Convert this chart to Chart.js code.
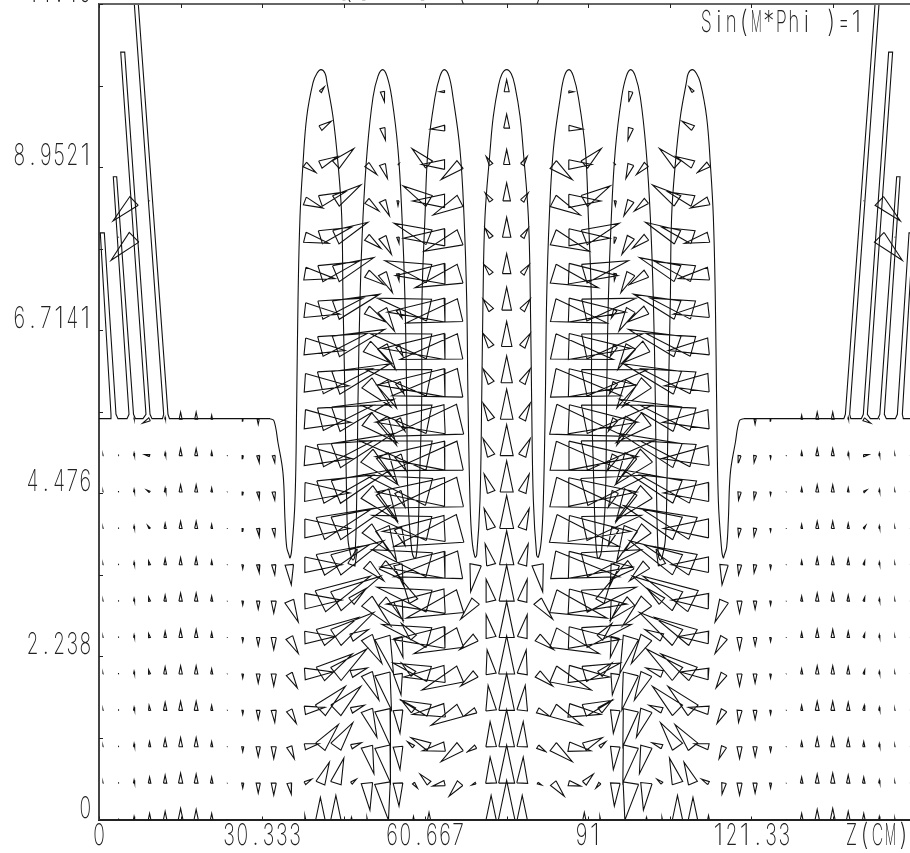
<!DOCTYPE html>
<html>
<head>
<meta charset="utf-8">
<title>Sin(M*Phi)=1</title>
<script src="https://cdn.jsdelivr.net/npm/chart.js@4/dist/chart.umd.min.js"></script>
<style>
  html, body { margin: 0; padding: 0; background: #fff; overflow: hidden; }
  canvas { display: block; }
</style>
</head>
<body>
<canvas id="fieldChart" width="910" height="853"></canvas>
<script>
// axis ticks
const xTickValues = [0, 15.167, 30.333, 45.5, 60.667, 75.833, 91, 106.17, 121.33, 136.5];
const xTickLabels = ['0', '', '30.333', '', '60.667', '', '91', '', '121.33', ''];
const yTickValues = [0, 1.119, 2.238, 3.357, 4.476, 5.595, 6.7141, 7.833, 8.9521, 10.071, 11.19];
const yTickLabels = ['0', '', '2.238', '', '4.476', '', '6.7141', '', '8.9521', '', '11.19'];

// arrow grid (left half, the right half is the mirror image about the centre column)
const gridZ = [0.74, 3.63, 6.52, 9.41, 12.30, 15.18, 18.07, 20.96, 23.85, 26.74, 29.62, 32.51, 35.40, 38.29,
  41.18, 44.06, 46.95, 49.84, 52.73, 55.62, 58.50, 61.39, 64.28, 67.17, 70.06, 72.94, 75.83];
const gridR = [0, 0.499, 0.999, 1.498, 1.997, 2.497, 2.996, 3.495, 3.994, 4.494, 4.993,
  5.492, 5.992, 6.491, 6.99, 7.49, 7.989, 8.488, 8.987, 9.487, 9.986];

// field components, one row per gridR, one column per gridZ
const fieldZ = [
  [0,0,0,0,0,0,0,0,0,0,0,0,0,0,0,0,0,0,0,0,0,0,0,0,0,0,0],
  [0,0,0,0,0,0,0,0,0,0,0,0,2,7,9,8,5,3,6,1,4,-9,-12,-11,-4,-1,0],
  [0,0,0,0,0,0,0,0,0,0,0,0,5,14,18,17,10,7,8,2,-6,-18,-22,-19,-8,-1,0],
  [0,0,0,-0.5,0,0,0,0,0,0,0,1,7,20,25,25,13,10,8,2,-12,-28,-32,-29,-12,-3,0],
  [0,0,0,-1,0,0,0,0,0,0,0,0,8,28,32,31,16,12,9,3,-12,-36,-41,-38,-15,-4,0],
  [0,0,0,-1,0,0,0,0,0,0,0,0,9,30,38,38,17,15,11,5,-12,-47,-51,-46,-16,-5,0],
  [0,0,0,-1,0,0,0,0,0,0,0,0,9,37,50,45,15,24,20,5,-11,-52,-58,-54,-15,-5,0],
  [0,0,0,-1,0,0,0,0,0,0,1,1,2,37,49,48,6,17,20,5,0,-57,-64,-66,-5,-6,0],
  [0,0,0,-2,0,0,0,0,0,0,1,1,0,45,52,54,0,22,14,7,0,-57,-62,-66,0,-7,0],
  [0,0,0,-3,0,0,0,0,0,0,1,1,0,45,53,54,0,30,15,7,0,-64,-68,-70,0,-7,0],
  [0,0,0,-5,0,0,0,0,0,0,1,1,0,47,53,57,0,31,15,8,0,-70,-69,-69,0,-8,0],
  [0,0,0,-7,0,0,0,0,0,0,0,0,0,46,53,58,0,30,14,7,0,-68,-69,-71,0,-8,0],
  [0,0,0,0,0,0,0,0,0,0,0,0,0,44,52,54,0,24,14,6,0,-63,-67,-68,0,-8,0],
  [0,0,0,0,0,0,0,0,0,0,0,0,0,40,47,49,0,25,13,5,0,-59,-62,-60,0,-8,0],
  [0,0,0,0,0,0,0,0,0,0,0,0,0,35,43,44,0,19,12,4,0,-52,-57,-54,0,-8,0],
  [0,0,0,0,0,0,0,0,0,0,0,0,0,30,38,38,0,17,10,1,0,-44,-49,-45,0,-7,0],
  [0,0,-23,0,0,0,0,0,0,0,0,0,0,24,31,32,0,14,9,1,0,-35,-41,-36,0,-6,0],
  [0,0,-21,0,0,0,0,0,0,0,0,0,0,18,25,25,0,12,7,0,0,-26,-32,-27,0,-6,0],
  [0,0,0,0,0,0,0,0,0,0,0,0,0,11,17,18,0,10,5,1,0,-17,-23,-19,0,-5,0],
  [0,0,0,0,0,0,0,0,0,0,0,0,0,0,11,0,0,0,3,0,0,0,-14,0,0,0,0],
  [0,0,0,0,0,0,0,0,0,0,0,0,0,0,4,0,0,0,2,0,0,0,-5,0,0,0,0]
];
const fieldR = [
  [0,1,3,6,8,11,10,6,0.5,0,0,0,0,4,22,24,2,2,0,0,3,7,0,0,0,24,39],
  [0.5,1,3,6,8,10,9,6,0.5,-5,-10,-12,-11,4,21,25,4,-27,-37,-23,-5,9,-3,-13,-2,26,38],
  [0.5,1,3,5,8,9,9,5,0.5,-5,-10,-12,-12,3,22,24,4,-27,-36,-23,5,9,-4,-15,-5,25,37],
  [0.5,1,3,5,8,9,9,5,0.5,-4,-9,-12,-13,3,24,24,5,-27,-36,-23,10,10,-4,-15,-6,25,37],
  [0.5,1,2.5,4,7,8,8,5,0.5,-4,-9,-12,-14,2,20,25,6,-26,-36,-21,11,11,-3,-16,-12,24,38],
  [0.5,1,2.5,4,6,8,8,5,0.5,-4,-8,-12,-16,1,20,25,8,-26,-36,-20,14,13,-2,-16,-12,23,36],
  [0.5,1,2.5,4,6,8,8,5,0.5,-4,-8,-12,-21,1,25,25,13,-25,-18,-20,20,14,-3,-17,-18,22,36],
  [0.5,1,2.5,4,6,7,7,4,0.5,-4,-8,-10,-20,0,20,24,17,-16,-15,-20,0,15,-2,-12,-27,21,34],
  [0.5,1,2.5,3,5,7,7,4,0.5,-3,-8,-8,0,0,20,23,0,-23,-32,-17,0,13,-3,-18,0,20,33],
  [0.5,1,2.5,2,4,7,7,4,0.5,-3,-7,-8,0,-1,17,22,0,-28,-30,-15,0,17,0,-16,0,18,31],
  [0.5,1,2.5,1,3,7,7,4,0.5,-3,-7,-7,0,-3,15,22,0,-29,-28,-15,0,15,-1,-15,0,17,31],
  [0,0,1,-4,2,7,7,4,0,-2,-5,0,0,-3,14,20,0,-23,-26,-12,0,14,-3,-17,0,16,30],
  [0,0,0,0,0,0,0,0,0,0,0,0,0,-3,14,19,0,-24,-25,-11,0,13,-2,-13,0,14,27],
  [0,0,0,0,0,0,0,0,0,0,0,0,0,-4,13,17,0,-17,-23,-10,0,13,-2,-13,0,13,25],
  [0,0,0,0,0,0,0,0,0,0,0,0,0,-4,12,16,0,-12,-21,-8,0,12,-2,-13,0,11,23],
  [0,0,0,0,0,0,0,0,0,0,0,0,0,-5,12,16,0,-11,-19,-7,0,13,-2,-14,0,9,20],
  [0,0.5,-23,0,0,0,0,0,0,0,0,0,0,-6,10,15,0,-11,-17,-6,0,14,-1,-14,0,9,20],
  [0,0,-20,0.5,0,0,0,0,0,0,0,0,0,-7,9,16,0,-10,-15,-5,0,15,0,-14,0,8,18],
  [0,0,0,0,0,0,0,0,0,0,0,0,0,-8,8,16,0,-10,-14,1,0,16,0,-15,0,8,15],
  [0,0,0,0,0,0,0,0,0,0,0,0,0,0,7,0,0,0,-12,0,0,0,-1,0,0,0,14],
  [0,0,0,0,0,0,0,0,0,0,0,0,0,0,5,0,0,0,-10,0,0,0,0,0,0,0,12]
];

// thin slots on the beam pipe wall, left end
const slotZ = [0, 2.05, 2.23, 0.24, 0.99, 3.16, 3.53, 5.21, 5.58, 2.66, 3.29, 6.42, 6.79, 8.18, 8.74, 4.04, 4.78, 9.49, 9.86,
  11.81, 12.03, 6.57, 7.31, 12.83, 13.11, 31.81];
const slotR = [5.5, 5.5, 5.56, 8.05, 8.05, 5.56, 5.5, 5.5, 5.56, 8.82, 8.82, 5.56, 5.5, 5.5, 5.56, 10.53, 10.53, 5.56, 5.5,
  5.5, 5.56, 11.19, 11.19, 5.56, 5.5, 5.5];

// cavity outline, left half up to the centre of the middle cell
const cavityZ = [31.81, 32.55, 33.3, 34.23, 34.6, 34.91, 35.34, 35.53, 35.84,
  36.46, 36.78, 37.02, 37.39, 37.95, 38.64, 39.81, 40.55, 41.29, 42.04, 42.41, 43.53, 44.46, 45.15, 45.39, 45.76, 46.07, 46.32, 46.82, 47.25,
  47.62, 47.93, 48.18, 48.55, 49.11, 49.9, 50.97, 51.9, 52.77, 53.57, 54.45, 55.62, 56.36, 56.92, 57.24, 57.48, 58.17, 58.59,
  58.97, 59.34, 59.71, 60.03, 60.08, 60.64, 61.2, 62.5, 63.43, 64.23, 65.1, 65.85, 67.15, 67.9, 68.4, 68.64, 69.01, 69.38, 69.94,
  70.26, 70.87, 71.19, 71.43, 71.8, 72.73, 73.35, 74.28, 74.96, 75.83];
const cavityR = [5.5, 5.47, 5.17, 4.75, 4.11, 3.74, 3.63, 3.59, 3.70,
  4.38, 5.76, 7.13, 8.27, 9.0, 9.64, 10.11, 10.24, 10.29, 10.24, 10.11, 9.64, 9.0, 8.27, 7.13, 5.76, 4.38, 3.84, 3.63, 3.56,
  3.63, 4.38, 5.76, 7.13, 8.27, 9.19, 9.91, 10.2, 10.29, 10.2, 9.91, 9.19, 8.27, 7.13, 5.76, 4.38, 3.70, 3.59,
  3.6, 3.93, 4.84, 5.76, 7.13, 8.27, 9.19, 9.91, 10.2, 10.29, 10.2, 9.91, 9.19, 8.27, 7.13, 5.76, 4.38, 3.84, 3.6,
  3.63, 4.38, 5.76, 7.13, 8.27, 9.16, 9.65, 10.06, 10.23, 10.29];

const zFull = 151.667;
const rFull = 11.19;
const zShown = 150.86;   // the original plot runs a little past the right edge of the picture

// one field unit on each axis
const zPerUnit = 1 / 5.376;
const rPerUnit = 1 / 72.88;
const arrowWidth = 0.21; // half width of the base over the arrow length

const labelFont = '200 30px Inter, "Liberation Sans", sans-serif';
const lineColor = '#111';

function addArrow(points, z, r, dz, dr) {
  const len = Math.hypot(dz, dr);
  if (len === 0) return;
  const bx = -dr * arrowWidth;
  const by = dz * arrowWidth;
  points.push({ x: z + bx * zPerUnit, y: r + by * rPerUnit });
  points.push({ x: z + dz * zPerUnit, y: r + dr * rPerUnit });
  points.push({ x: z - bx * zPerUnit, y: r - by * rPerUnit });
  points.push({ x: z + bx * zPerUnit, y: r + by * rPerUnit });
  points.push({ x: null, y: null });
}

const arrowPoints = [];
gridR.forEach((r, k) => {
  gridZ.forEach((z, i) => {
    addArrow(arrowPoints, z, r, fieldZ[k][i], fieldR[k][i]);
    if (i < gridZ.length - 1) {
      addArrow(arrowPoints, zFull - z, r, -fieldZ[k][i], fieldR[k][i]);
    }
  });
});

const slotPoints = slotZ.map((z, i) => ({ x: z, y: slotR[i] }));
slotPoints.push({ x: null, y: null });
for (let i = slotZ.length - 1; i >= 0; i--) {
  slotPoints.push({ x: zFull - slotZ[i], y: slotR[i] });
}

const cavityPoints = cavityZ.map((z, i) => ({ x: z, y: cavityR[i] }));
for (let i = cavityZ.length - 2; i >= 0; i--) {
  cavityPoints.push({ x: zFull - cavityZ[i], y: cavityR[i] });
}

// plotter lettering: tall narrow characters, one fixed cell each
function drawCells(ctx, text, x, y, cell) {
  ctx.textAlign = 'center';
  ctx.textBaseline = 'alphabetic';
  [...text].forEach((ch, i) => {
    const w = ctx.measureText(ch).width;
    const sx = w > 0 ? Math.min(0.85, cell * 0.88 / w) : 1;
    ctx.save();
    ctx.translate(x + cell * (i + 0.5), y);
    ctx.scale(sx, 1);
    ctx.fillText(ch, 0, 0);
    ctx.restore();
  });
}

const plotFrame = {
  id: 'plotFrame',
  afterDatasetsDraw(chart) {
    const { ctx, chartArea, scales } = chart;
    ctx.save();
    // top border and inward tick marks
    ctx.strokeStyle = '#666';
    ctx.lineWidth = 2;
    ctx.beginPath();
    ctx.moveTo(chartArea.left, chartArea.top);
    ctx.lineTo(chartArea.right, chartArea.top);
    ctx.stroke();
    ctx.strokeStyle = '#222';
    ctx.lineWidth = 1;
    ctx.beginPath();
    xTickValues.forEach(v => {
      const px = Math.round(scales.x.getPixelForValue(v)) + 0.5;
      ctx.moveTo(px, chartArea.top);
      ctx.lineTo(px, chartArea.top + 4);
      ctx.moveTo(px, chartArea.bottom);
      ctx.lineTo(px, chartArea.bottom - 3);
    });
    yTickValues.forEach(v => {
      const py = Math.round(scales.y.getPixelForValue(v)) + 0.5;
      ctx.moveTo(chartArea.left, py);
      ctx.lineTo(chartArea.left + 4, py);
    });
    ctx.stroke();
    // lettering
    ctx.fillStyle = '#222';
    ctx.font = labelFont;
    xTickLabels.forEach((label, i) => {
      const cx = scales.x.getPixelForValue(xTickValues[i]);
      drawCells(ctx, label, cx - label.length * 6.6, 845, 13.2);
    });
    yTickLabels.forEach((label, i) => {
      const py = scales.y.getPixelForValue(yTickValues[i]);
      drawCells(ctx, label, 92 - label.length * 13.2, py - 2, 13.2);
    });
    drawCells(ctx, 'Sin(M*Phi )=1', 700, 32, 12.5);
    drawCells(ctx, 'Z(CM)', 845, 845, 13);
    drawCells(ctx, 'FREQUENCY(MHZ)=', 276, 0, 19.5);
    ctx.restore();
  }
};

const ctx = document.getElementById('fieldChart').getContext('2d');
new Chart(ctx, {
  type: 'scatter',
  data: {
    datasets: [
      {
        label: 'Slots',
        data: slotPoints,
        showLine: true,
        borderColor: lineColor,
        borderWidth: 1.1,
        pointRadius: 0,
        spanGaps: false
      },
      {
        label: 'Cavity',
        data: cavityPoints,
        showLine: true,
        tension: 0.4,
        borderColor: lineColor,
        borderWidth: 1.1,
        pointRadius: 0
      },
      {
        label: 'Field',
        data: arrowPoints,
        showLine: true,
        borderColor: lineColor,
        borderWidth: 1.1,
        pointRadius: 0,
        spanGaps: false
      }
    ]
  },
  options: {
    responsive: false,
    animation: false,
    layout: { padding: { top: 4, right: 0, left: 0, bottom: 0 } },
    plugins: {
      legend: { display: false },
      tooltip: { enabled: false },
      title: { display: false }
    },
    scales: {
      x: {
        type: 'linear',
        min: 0,
        max: zShown,
        grid: { display: false },
        border: { color: '#222', width: 2 },
        afterFit: s => { s.height = 33.5; s.paddingLeft = 0; s.paddingRight = 0; },
        afterBuildTicks: s => { s.ticks = xTickValues.map(v => ({ value: v })); },
        ticks: { display: false }
      },
      y: {
        type: 'linear',
        min: 0,
        max: rFull,
        grid: { display: false },
        border: { color: '#444', width: 2 },
        afterFit: s => { s.width = 99; s.paddingTop = 0; s.paddingBottom = 0; },
        afterBuildTicks: s => { s.ticks = yTickValues.map(v => ({ value: v })); },
        ticks: { display: false }
      }
    }
  },
  plugins: [plotFrame]
});
</script>
</body>
</html>
